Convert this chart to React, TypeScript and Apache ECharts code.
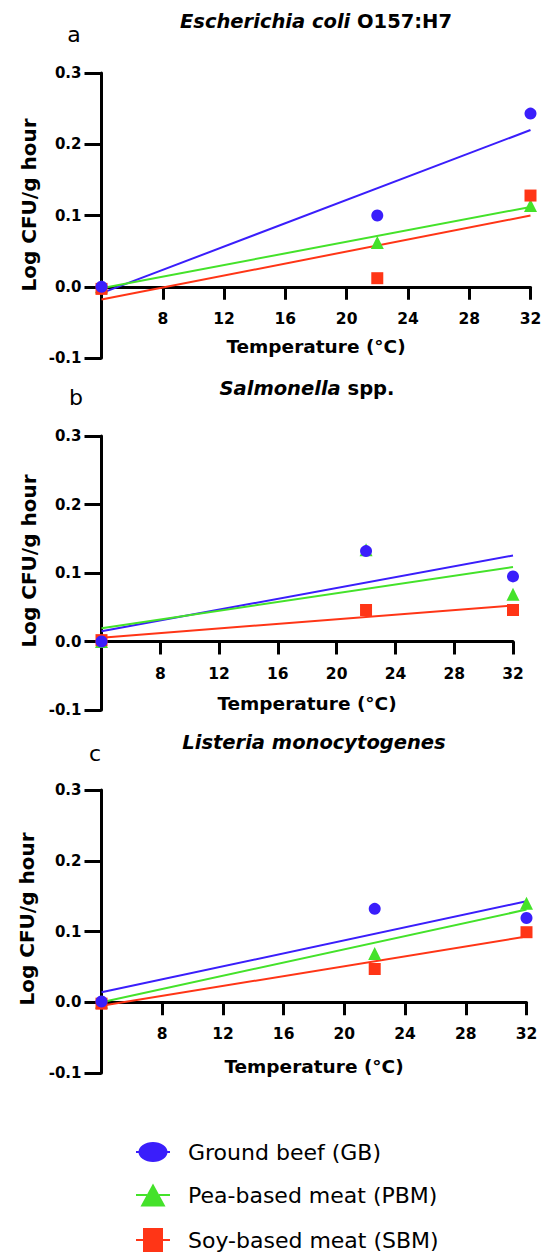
import React, { useEffect, useRef } from "react";
import * as echarts from "echarts";

// ---------- data ----------
const temperatures = [4, 22, 32];
const fitRange = [4, 32];
const xRange = [4, 32];
const yRange = [-0.1, 0.3];

const seriesNames = ["Ground beef (GB)", "Pea-based meat (PBM)", "Soy-based meat (SBM)"];

// Escherichia coli O157:H7 (Log CFU/g hour)
const ecoliGB = [0.0, 0.1, 0.243];
const ecoliPBM = [0.0, 0.062, 0.114];
const ecoliSBM = [-0.003, 0.012, 0.128];
const ecoliFitGB = [-0.009, 0.22];
const ecoliFitPBM = [-0.002, 0.112];
const ecoliFitSBM = [-0.018, 0.1];

// Salmonella spp.
const salmGB = [0.0, 0.132, 0.095];
const salmPBM = [0.0, 0.134, 0.069];
const salmSBM = [0.002, 0.046, 0.046];
const salmFitGB = [0.015, 0.1255];
const salmFitPBM = [0.0195, 0.1086];
const salmFitSBM = [0.0055, 0.0526];

// Listeria monocytogenes
const listGB = [0.001, 0.132, 0.119];
const listPBM = [0.0, 0.069, 0.14];
const listSBM = [-0.002, 0.047, 0.099];
const listFitGB = [0.014, 0.1427];
const listFitPBM = [0.0, 0.131];
const listFitSBM = [-0.005, 0.093];

const panelLetters = ["a", "b", "c"];
const panelTitles = [
  "{i|Escherichia coli} O157:H7",
  "{i|Salmonella} spp.",
  "{i|Listeria monocytogenes}",
];
const xAxisTitle = "Temperature (°C)";
const yAxisTitle = "Log CFU/g hour";

// ---------- styles / layout ----------
const colors = ["#3A1EFB", "#44E22A", "#FF3516"];
const symbols = ["circle", "triangle", "rect"];
const symbolSizes = [12, 13, 12];
const FONT = "DejaVu Sans";
const TITLE_SIZE = 19.5;

const layout = [
  { top: 73, height: 285, left: 101.5, width: 429, title: [316, 21], letter: [74, 34], xTitle: [316, 346], yTitle: [29, 205] },
  { top: 436, height: 274, left: 101.5, width: 411.5, title: [307, 388], letter: [76, 397], xTitle: [307, 703], yTitle: [29, 561] },
  { top: 790, height: 283, left: 101.5, width: 425, title: [314, 742], letter: [95, 753], xTitle: [314, 1066], yTitle: [27, 919] },
];
const legendTops = [1140, 1183, 1228];

const legendIcons = [
  "path://M0 9 L4 9 L4 11 L0 11 Z M30 9 L34 9 L34 11 L30 11 Z M2.5 10 A14.5 10 0 1 1 31.5 10 A14.5 10 0 1 1 2.5 10 Z",
  "path://M0 10.5 L11 10.5 L11 12.5 L0 12.5 Z M23 10.5 L34 10.5 L34 12.5 L23 12.5 Z M4.5 23 L17 0 L29.5 23 Z",
  "path://M0 11 L8 11 L8 13 L0 13 Z M26 11 L34 11 L34 13 L26 13 Z M7 0 L27 0 L27 24 L7 24 Z",
];

const panels = [
  { points: [ecoliGB, ecoliPBM, ecoliSBM], fits: [ecoliFitGB, ecoliFitPBM, ecoliFitSBM] },
  { points: [salmGB, salmPBM, salmSBM], fits: [salmFitGB, salmFitPBM, salmFitSBM] },
  { points: [listGB, listPBM, listSBM], fits: [listFitGB, listFitPBM, listFitSBM] },
];

function buildOption() {
  const grid: any[] = [];
  const xAxis: any[] = [];
  const yAxis: any[] = [];
  const series: any[] = [];
  const graphic: any[] = [];

  panels.forEach((p, g) => {
    const L = layout[g];
    grid.push({ left: L.left, top: L.top, width: L.width, height: L.height, containLabel: false });
    const zeroShare = (0 - yRange[0]) / (yRange[1] - yRange[0]);
    xAxis.push({
      type: "value",
      gridIndex: g,
      position: "bottom",
      offset: -L.height * zeroShare,
      min: xRange[0],
      max: xRange[1],
      interval: 4,
      splitLine: { show: false },
      axisLine: { show: true, onZero: false, lineStyle: { color: "#000", width: 3 } },
      axisTick: { show: true, length: 13, lineStyle: { color: "#000", width: 3 } },
      axisLabel: {
        formatter: (v: number) => (v === 4 ? "" : String(v)),
        fontSize: 15.5,
        fontWeight: "bold",
        fontFamily: FONT,
        color: "#000",
        margin: 24,
      },
    });
    yAxis.push({
      type: "value",
      gridIndex: g,
      min: yRange[0],
      max: yRange[1],
      interval: 0.1,
      splitLine: { show: false },
      axisLine: { show: true, lineStyle: { color: "#000", width: 3 } },
      axisTick: { show: true, length: 17, lineStyle: { color: "#000", width: 3 } },
      axisLabel: {
        formatter: (v: number) => (Math.abs(v) < 1e-9 ? "0.0" : v.toFixed(1)),
        fontSize: 15,
        fontWeight: "bold",
        fontFamily: FONT,
        color: "#000",
        margin: 20,
      },
    });

    p.fits.forEach((f, k) => {
      series.push({
        type: "line",
        name: "fit-" + g + "-" + k,
        xAxisIndex: g,
        yAxisIndex: g,
        data: [
          [fitRange[0], f[0]],
          [fitRange[1], f[1]],
        ],
        symbol: "none",
        lineStyle: { color: colors[k], width: 2 },
        silent: true,
        z: 2,
      });
    });
    [1, 2, 0].forEach((k) => {
      series.push({
        type: "scatter",
        name: "pts-" + g + "-" + k,
        xAxisIndex: g,
        yAxisIndex: g,
        data: temperatures.map((t, i) => [t, p.points[k][i]]),
        symbol: symbols[k],
        symbolSize: symbolSizes[k],
        itemStyle: { color: colors[k], opacity: 1 },
        clip: false,
        silent: true,
        z: 3,
      });
    });

    graphic.push({
      type: "text",
      x: L.title[0],
      y: L.title[1],
      style: {
        text: panelTitles[g],
        fontSize: TITLE_SIZE,
        fontWeight: "bold",
        fontFamily: FONT,
        fill: "#000",
        align: "center",
        verticalAlign: "middle",
        rich: {
          i: { fontSize: TITLE_SIZE, fontWeight: "bold", fontStyle: "italic", fontFamily: FONT, fill: "#000" },
        },
      },
    });
    graphic.push({
      type: "text",
      x: L.letter[0],
      y: L.letter[1],
      style: { text: panelLetters[g], fontSize: 22, fontFamily: FONT, fill: "#000", align: "center", verticalAlign: "middle" },
    });
    graphic.push({
      type: "text",
      x: L.xTitle[0],
      y: L.xTitle[1],
      style: {
        text: xAxisTitle,
        fontSize: 18.5,
        fontWeight: "bold",
        fontFamily: FONT,
        fill: "#000",
        align: "center",
        verticalAlign: "middle",
      },
    });
    graphic.push({
      type: "text",
      x: L.yTitle[0],
      y: L.yTitle[1],
      rotation: Math.PI / 2,
      style: {
        text: yAxisTitle,
        fontSize: 20,
        fontWeight: "bold",
        fontFamily: FONT,
        fill: "#000",
        align: "center",
        verticalAlign: "middle",
      },
    });
  });

  seriesNames.forEach((n, k) => {
    series.push({
      type: "line",
      name: n,
      xAxisIndex: 0,
      yAxisIndex: 0,
      data: [],
      symbol: symbols[k],
      itemStyle: { color: colors[k] },
      lineStyle: { color: colors[k], width: 2 },
    });
  });

  const legend = seriesNames.map((n, k) => ({
    orient: "horizontal",
    left: 136,
    top: legendTops[k],
    padding: 0,
    itemWidth: 34,
    itemHeight: 24,
    selectedMode: false,
    data: [{ name: n, icon: legendIcons[k] }],
    textStyle: { fontSize: 22, color: "#000", fontFamily: FONT, padding: [0, 0, 0, 13], lineHeight: 24 },
  }));

  return {
    animation: false,
    backgroundColor: "#fff",
    textStyle: { fontFamily: FONT },
    grid,
    xAxis,
    yAxis,
    series,
    graphic,
    legend,
  };
}

export default function App() {
  const ref = useRef<HTMLDivElement>(null);
  useEffect(() => {
    if (!ref.current) return;
    const chart = echarts.init(ref.current, undefined, { renderer: "svg" });
    chart.setOption(buildOption() as any);
    return () => chart.dispose();
  }, []);
  return (
    <div
      ref={ref}
      style={{ position: "absolute", left: 0, top: 0, width: 549, height: 1252, background: "#fff" }}
    />
  );
}
